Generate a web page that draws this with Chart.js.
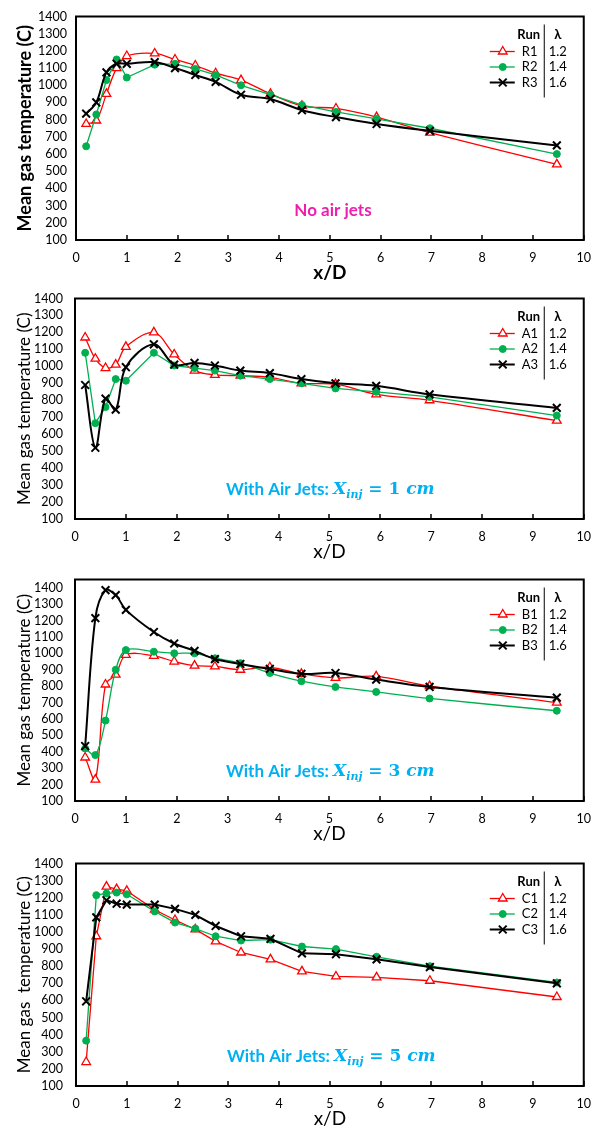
<!DOCTYPE html>
<html>
<head>
<meta charset="utf-8">
<script src="https://cdn.jsdelivr.net/npm/chart.js@4.4.1/dist/chart.umd.min.js"></script>
<style>
  body { margin: 0; background: #ffffff; }
  #lienzo { position: relative; width: 601px; height: 1131px; overflow: hidden; }
  #lienzo canvas { position: absolute; left: 0; }
</style>
</head>
<body>
<div id="lienzo">
  <canvas id="panelR"></canvas>
  <canvas id="panelA"></canvas>
  <canvas id="panelB"></canvas>
  <canvas id="panelC"></canvas>
</div>
<script>
// Posiciones axiales de medición (x/D), comunes a todas las corridas
const xD = [0.2, 0.4, 0.6, 0.8, 1.0, 1.55, 1.95, 2.35, 2.75, 3.25, 3.83, 4.45, 5.12, 5.92, 6.97, 9.47];

// Valores de lambda de cada corrida (misma columna en las cuatro leyendas)
const lambdas = ["1.2", "1.4", "1.6"];

// Sin chorros de aire
const runsR = ["R1", "R2", "R3"];
const tempR1 = [775, 795, 950, 1100, 1170, 1185, 1150, 1115, 1070, 1030, 950, 880, 865, 815, 725, 540];
const tempR2 = [645, 830, 1030, 1150, 1045, 1120, 1125, 1095, 1060, 1000, 945, 885, 845, 805, 750, 600];
const tempR3 = [835, 900, 1075, 1125, 1125, 1135, 1100, 1060, 1020, 945, 920, 855, 815, 775, 735, 650];

// Chorros de aire en Xinj = 1 cm
const runsA = ["A1", "A2", "A3"];
const tempA1 = [1170, 1045, 990, 1010, 1115, 1200, 1070, 975, 950, 945, 935, 900, 895, 835, 800, 680];
const tempA2 = [1080, 665, 760, 925, 915, 1080, 1005, 990, 975, 945, 925, 900, 870, 850, 820, 710];
const tempA3 = [890, 520, 810, 745, 995, 1130, 1010, 1020, 1005, 975, 960, 925, 900, 885, 835, 755];

// Chorros de aire en Xinj = 3 cm
const runsB = ["B1", "B2", "B3"];
const tempB1 = [365, 230, 810, 870, 990, 985, 950, 925, 920, 900, 915, 875, 850, 860, 800, 700];
const tempB2 = [420, 380, 590, 900, 1020, 1010, 1000, 1000, 970, 940, 880, 830, 795, 765, 725, 650];
const tempB3 = [435, 1215, 1385, 1355, 1265, 1130, 1060, 1015, 965, 935, 905, 875, 880, 840, 795, 730];

// Chorros de aire en Xinj = 5 cm
const runsC = ["C1", "C2", "C3"];
const tempC1 = [240, 975, 1265, 1250, 1240, 1130, 1070, 1015, 945, 880, 840, 770, 740, 735, 715, 620];
const tempC2 = [365, 1215, 1225, 1230, 1220, 1120, 1055, 1020, 975, 950, 955, 915, 900, 855, 800, 705];
const tempC3 = [595, 1085, 1185, 1165, 1160, 1160, 1135, 1100, 1035, 975, 960, 875, 870, 840, 795, 700];

// Ticks de los ejes
const ticksX = { min: 0, max: 10, paso: 1 };
const ticksY = { min: 100, paso: 100 };

const fuente = "Lato, 'Open Sans', sans-serif";
const serif = "'DejaVu Serif', 'Liberation Serif', serif";

Chart.defaults.font.family = fuente;
Chart.defaults.color = "#000";

// Estilo de cada corrida: triángulo rojo, círculo verde, aspa negra
const estilos = [
  { color: "#ff0000", punto: "triangle", radio: 5, relleno: "#ffffff", borde: 1.3, linea: 1.3 },
  { color: "#00b050", punto: "circle", radio: 3.5, relleno: "#00b050", borde: 1, linea: 1.3 },
  { color: "#000000", punto: "crossRot", radio: 5.5, relleno: "#000000", borde: 2, linea: 2 },
];

// Marco del área de trazado y marcas del eje x hacia adentro
const marco = {
  id: "marco",
  beforeDatasetsDraw(chart) {
    const { ctx, chartArea: a, scales: { x } } = chart;
    ctx.save();
    ctx.strokeStyle = "#000";
    ctx.lineWidth = 1.5;
    x.ticks.forEach((t) => {
      const px = Math.round(x.getPixelForValue(t.value));
      ctx.beginPath();
      ctx.moveTo(px, a.bottom);
      ctx.lineTo(px, a.bottom - 5);
      ctx.stroke();
    });
    ctx.lineWidth = 2;
    ctx.strokeRect(a.left, a.top, a.right - a.left, a.bottom - a.top);
    ctx.restore();
  },
};

// Leyenda en forma de tabla: Run | λ
const tablaLeyenda = {
  id: "tablaLeyenda",
  afterDraw(chart) {
    const { ctx, chartArea: a } = chart;
    const xr = a.right;
    ctx.save();
    ctx.textBaseline = "middle";
    ctx.textAlign = "center";
    ctx.fillStyle = "#000";
    ctx.font = `bold 13px ${fuente}`;
    ctx.fillText("Run", xr - 55, a.top + 18);
    ctx.fillText("λ", xr - 26, a.top + 18);

    // separador vertical entre columnas
    ctx.strokeStyle = "#000";
    ctx.lineWidth = 1;
    ctx.beginPath();
    ctx.moveTo(xr - 39.5, a.top + 8);
    ctx.lineTo(xr - 39.5, a.top + 81);
    ctx.stroke();

    ctx.font = `13px ${fuente}`;
    chart.data.datasets.forEach((ds, i) => {
      const y = a.top + 35 + i * 15.5;
      ctx.strokeStyle = ds.borderColor;
      ctx.lineWidth = ds.borderWidth;
      ctx.beginPath();
      ctx.moveTo(xr - 94, y);
      ctx.lineTo(xr - 69, y);
      ctx.stroke();

      ctx.fillStyle = ds.pointBackgroundColor;
      ctx.strokeStyle = ds.pointBorderColor;
      ctx.lineWidth = ds.pointBorderWidth;
      Chart.helpers.drawPoint(ctx, {
        pointStyle: ds.pointStyle,
        radius: ds.pointRadius,
        borderWidth: ds.pointBorderWidth,
        rotation: 0,
      }, xr - 81, y);

      ctx.fillStyle = "#000";
      ctx.textAlign = "left";
      ctx.fillText(ds.label, xr - 62, y);
      ctx.textAlign = "center";
      ctx.fillText(lambdas[i], xr - 26, y);
    });
    ctx.restore();
  },
};

// Rótulo de la condición de cada panel
const rotulo = {
  id: "rotulo",
  afterDraw(chart, args, opts) {
    const { ctx, chartArea: a } = chart;
    const y = a.bottom - 29;
    ctx.save();
    ctx.textBaseline = "middle";
    if (opts.xinj == null) {
      ctx.font = `bold 17px ${fuente}`;
      ctx.fillStyle = "#ee1fae";
      ctx.textAlign = "center";
      ctx.fillText(opts.texto, a.left + 257, y);
    } else {
      ctx.fillStyle = "#00b0f0";
      ctx.textAlign = "left";
      let x = a.left + 151;
      const partes = [
        [opts.texto + " ", `bold 17px ${fuente}`, 0],
        ["X", `bold italic 17px ${serif}`, 0],
        ["inj", `bold italic 11px ${serif}`, 5],
        [" = " + opts.xinj + " ", `bold 17px ${serif}`, 0],
        ["cm", `bold italic 17px ${serif}`, 0],
      ];
      partes.forEach(([t, f, dy]) => {
        ctx.font = f;
        ctx.fillText(t, x, y + dy);
        x += ctx.measureText(t).width;
      });
    }
    ctx.restore();
  },
};

function crearSeries(runs, temps, suaves) {
  return runs.map((run, i) => ({
    label: run,
    data: xD.map((x, k) => ({ x: x, y: temps[i][k] })),
    borderColor: estilos[i].color,
    borderWidth: estilos[i].linea,
    pointStyle: estilos[i].punto,
    pointRadius: estilos[i].radio,
    pointBackgroundColor: estilos[i].relleno,
    pointBorderColor: estilos[i].color,
    pointBorderWidth: estilos[i].borde,
    tension: suaves[i] ? 0.35 : 0,
    fill: false,
    order: 3 - i,
  }));
}

function crearPanel(id, p) {
  const canvas = document.getElementById(id);
  canvas.width = 601;
  canvas.height = p.alto;
  canvas.style.width = "601px";
  canvas.style.height = p.alto + "px";
  canvas.style.top = p.top + "px";

  return new Chart(canvas, {
    type: "line",
    data: { datasets: crearSeries(p.runs, p.temps, p.suaves) },
    options: {
      responsive: false,
      devicePixelRatio: 1,
      animation: false,
      layout: { padding: { top: 11, right: p.derecha, left: 0, bottom: 0 } },
      plugins: {
        legend: { display: false },
        tooltip: { enabled: false },
        rotulo: { texto: p.texto, xinj: p.xinj },
      },
      scales: {
        x: {
          type: "linear",
          min: ticksX.min,
          max: ticksX.max,
          ticks: { stepSize: ticksX.paso, autoSkip: false, padding: 10, font: { size: 12.5 }, color: "#000" },
          grid: { display: false, drawTicks: false },
          border: { display: false },
          title: {
            display: true,
            text: "x/D",
            font: { size: 19, weight: p.negrita ? "bold" : "normal", lineHeight: 1 },
            padding: 0,
            color: "#000",
          },
          afterFit: (s) => { s.height = 42; },
        },
        y: {
          type: "linear",
          min: ticksY.min,
          max: p.maxY,
          ticks: {
            stepSize: ticksY.paso,
            includeBounds: false,
            autoSkip: false,
            padding: p.padY,
            font: { size: 12.5 },
            color: "#000",
            callback: (v) => String(v),
          },
          grid: { display: false, drawTicks: false },
          border: { display: false },
          title: {
            display: true,
            text: p.tituloY,
            font: { size: p.negrita ? 18 : 17, weight: p.negrita ? "bold" : "normal", lineHeight: 1.2 },
            padding: { top: 14, bottom: 0 },
            color: "#000",
          },
          afterFit: (s) => { s.width = p.anchoY; },
        },
      },
    },
    plugins: [marco, tablaLeyenda, rotulo],
  });
}

crearPanel("panelR", {
  top: 0, alto: 282, derecha: 10, anchoY: 76, padY: 9, maxY: 1400, negrita: true,
  runs: runsR, temps: [tempR1, tempR2, tempR3], suaves: [true, false, true],
  tituloY: "Mean gas temperature (C)", texto: "No air jets", xinj: null,
});
crearPanel("panelA", {
  top: 279, alto: 282, derecha: 11, anchoY: 75, padY: 12, maxY: 1400, negrita: false,
  runs: runsA, temps: [tempA1, tempA2, tempA3], suaves: [true, false, true],
  tituloY: "Mean gas temperature (C)", texto: "With Air Jets:", xinj: 1,
});
crearPanel("panelB", {
  top: 560, alto: 283, derecha: 12, anchoY: 75, padY: 12, maxY: 1450, negrita: false,
  runs: runsB, temps: [tempB1, tempB2, tempB3], suaves: [true, true, true],
  tituloY: "Mean gas temperature (C)", texto: "With Air Jets:", xinj: 3,
});
crearPanel("panelC", {
  top: 843, alto: 285, derecha: 12, anchoY: 76, padY: 13, maxY: 1400, negrita: false,
  runs: runsC, temps: [tempC1, tempC2, tempC3], suaves: [false, false, false],
  tituloY: "Mean gas  temperature (C)", texto: "With Air Jets:", xinj: 5,
});
</script>
</body>
</html>
